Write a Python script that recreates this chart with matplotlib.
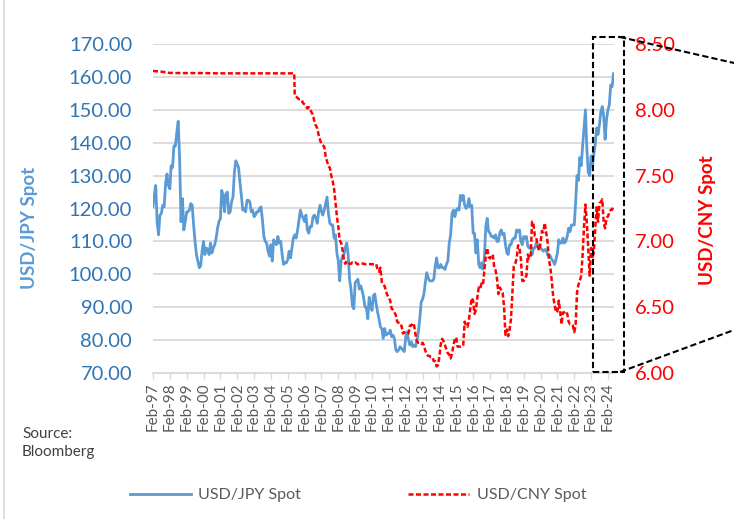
import matplotlib.pyplot as plt
import matplotlib.dates as mdates
import matplotlib.ticker as mticker
import pandas as pd
from matplotlib.lines import Line2D
from matplotlib.patches import Rectangle

plt.rcParams['font.family'] = ['Lato', 'DejaVu Sans']

# USD/JPY, un valor por mes desde Feb-1997 hasta Jun-2024
usdjpy = [
    120.5, 124.0, 127.0, 116.0, 112.0, 118.0, 118.5, 121.0, 120.5, 127.5, 130.5,          # 1997
    127.0, 126.0, 133.0, 132.5, 139.0, 139.0, 143.0, 146.5, 135.0, 116.0, 123.0, 113.5,   # 1998
    116.0, 119.0, 119.0, 119.5, 121.5, 121.0, 115.0, 110.0, 106.0, 104.0, 102.0, 102.5,   # 1999
    107.0, 110.0, 106.0, 108.0, 107.5, 106.0, 109.5, 106.5, 108.0, 109.0, 111.0, 114.0,   # 2000
    116.0, 117.0, 125.5, 124.0, 119.0, 124.5, 125.0, 118.5, 119.0, 122.0, 123.5, 131.0,   # 2001
    134.5, 133.5, 132.5, 128.0, 124.0, 119.5, 120.0, 119.0, 122.5, 122.5, 122.0, 119.0,   # 2002
    119.5, 117.5, 118.0, 119.0, 119.0, 120.0, 120.5, 116.5, 111.5, 110.0, 109.5, 107.0,   # 2003
    105.5, 109.0, 104.0, 110.5, 109.5, 109.0, 111.5, 109.5, 110.0, 106.0, 103.0, 103.5,   # 2004
    103.5, 104.5, 107.0, 105.0, 108.0, 111.0, 112.0, 111.0, 113.5, 116.5, 119.5, 118.0,   # 2005
    117.0, 116.0, 118.0, 113.5, 112.5, 114.5, 114.5, 117.5, 118.0, 117.0, 115.5, 119.0,   # 2006
    121.0, 119.0, 118.0, 119.5, 121.5, 123.5, 118.5, 115.5, 115.0, 115.0, 111.0, 112.0,   # 2007
    106.5, 104.0, 98.0, 104.0, 105.5, 106.0, 108.0, 109.5, 106.0, 98.5, 95.5, 90.5,      # 2008
    89.5, 97.5, 98.0, 98.5, 95.5, 96.5, 95.0, 93.0, 90.0, 90.0, 86.5, 93.0,              # 2009
    90.5, 89.0, 93.5, 94.0, 91.0, 88.5, 86.5, 84.0, 83.5, 80.5, 83.5, 81.5,              # 2010
    82.0, 82.0, 83.0, 81.0, 81.5, 80.5, 77.0, 76.5, 77.0, 78.0, 77.5, 77.0,              # 2011
    76.5, 81.0, 82.5, 80.0, 78.5, 79.5, 78.0, 78.5, 78.0, 80.0, 82.5, 86.5,              # 2012
    91.5, 92.5, 94.0, 97.5, 100.5, 99.0, 98.0, 98.0, 98.0, 98.5, 102.5, 105.0,           # 2013
    102.0, 102.0, 103.0, 102.0, 102.0, 101.5, 103.0, 104.0, 109.5, 112.0, 118.5, 119.5,  # 2014
    117.5, 119.5, 120.0, 119.5, 124.0, 122.5, 124.0, 121.0, 120.0, 120.5, 123.0, 120.5,  # 2015
    121.0, 112.5, 112.5, 106.5, 110.5, 103.0, 102.0, 103.5, 101.5, 105.0, 114.5, 117.0,  # 2016
    113.0, 112.5, 111.5, 111.5, 111.0, 112.0, 110.0, 110.0, 112.5, 113.5, 112.0, 112.5,  # 2017
    109.0, 106.5, 106.0, 109.0, 109.0, 110.5, 111.0, 111.0, 113.5, 113.0, 113.5, 110.0,  # 2018
    109.0, 111.5, 111.0, 111.5, 108.5, 108.0, 108.5, 106.0, 108.0, 108.0, 109.5, 108.5,  # 2019
    109.0, 108.0, 107.5, 107.0, 107.5, 107.5, 106.0, 106.0, 105.5, 104.5, 104.0, 103.0,  # 2020
    104.5, 106.5, 110.5, 109.5, 109.5, 111.0, 109.5, 110.0, 111.5, 114.0, 113.0, 115.0,  # 2021
    115.0, 115.0, 121.5, 130.0, 128.5, 135.5, 133.0, 139.0, 144.5, 150.0, 138.0, 131.0,  # 2022
    130.0, 136.0, 133.0, 136.5, 139.5, 144.5, 142.5, 145.5, 149.5, 151.0, 148.0, 141.0,  # 2023
    147.0, 150.0, 151.5, 157.5, 157.0, 161.0,                                            # 2024
]

# USD/CNY: periodo de tipo fijo (pocos puntos) y despues mensual desde Jul-2005
cny_fijo_fechas = ["1997-02-01", "1997-08-01", "1998-02-01", "1999-01-01", "2000-01-01",
                   "2001-01-01", "2002-01-01", "2003-01-01", "2004-01-01", "2005-01-01",
                   "2005-06-20"]
cny_fijo = [8.295, 8.290, 8.280, 8.279, 8.279, 8.277, 8.277, 8.277, 8.277, 8.277, 8.277]
usdcny = [
    8.11, 8.10, 8.09, 8.08, 8.08, 8.07,                                      # 2005
    8.05, 8.04, 8.03, 8.01, 8.02, 8.00, 7.98, 7.96, 7.91, 7.88, 7.86, 7.81,  # 2006
    7.77, 7.74, 7.73, 7.72, 7.65, 7.61, 7.57, 7.56, 7.50, 7.46, 7.40, 7.30,  # 2007
    7.19, 7.11, 7.01, 6.99, 6.94, 6.86, 6.83, 6.85, 6.84, 6.83, 6.83, 6.84,  # 2008
    6.835, 6.840, 6.832, 6.825, 6.830, 6.832, 6.832, 6.830, 6.827, 6.826, 6.827, 6.827,  # 2009
    6.827, 6.827, 6.826, 6.826, 6.828, 6.785, 6.77, 6.80, 6.69, 6.67, 6.66, 6.62,        # 2010
    6.59, 6.57, 6.55, 6.49, 6.48, 6.46, 6.44, 6.39, 6.38, 6.36, 6.36, 6.30,  # 2011
    6.31, 6.30, 6.30, 6.30, 6.36, 6.36, 6.38, 6.36, 6.29, 6.24, 6.23, 6.23,  # 2012
    6.22, 6.23, 6.21, 6.17, 6.14, 6.13, 6.13, 6.12, 6.12, 6.09, 6.09, 6.05,  # 2013
    6.06, 6.13, 6.22, 6.26, 6.24, 6.21, 6.18, 6.15, 6.14, 6.11, 6.15, 6.21,  # 2014
    6.26, 6.27, 6.20, 6.20, 6.20, 6.20, 6.21, 6.39, 6.36, 6.35, 6.40, 6.49,  # 2015
    6.57, 6.55, 6.45, 6.48, 6.57, 6.65, 6.64, 6.68, 6.67, 6.78, 6.89, 6.95,  # 2016
    6.88, 6.87, 6.89, 6.90, 6.81, 6.78, 6.72, 6.60, 6.65, 6.63, 6.61, 6.51,  # 2017
    6.29, 6.33, 6.28, 6.33, 6.41, 6.62, 6.81, 6.83, 6.87, 6.97, 6.95, 6.87,  # 2018
    6.70, 6.70, 6.72, 6.74, 6.90, 6.87, 6.88, 7.15, 7.13, 7.04, 7.03, 6.96,  # 2019
    6.93, 6.99, 7.08, 7.07, 7.14, 7.07, 7.00, 6.86, 6.80, 6.70, 6.58, 6.52,  # 2020
    6.46, 6.47, 6.55, 6.47, 6.37, 6.46, 6.46, 6.47, 6.45, 6.39, 6.37, 6.37,  # 2021
    6.36, 6.31, 6.36, 6.61, 6.67, 6.70, 6.74, 6.90, 7.12, 7.28, 7.14, 6.95,  # 2022
    6.74, 6.95, 6.87, 6.92, 7.10, 7.26, 7.15, 7.29, 7.30, 7.32, 7.14, 7.10,  # 2023
    7.18, 7.19, 7.22, 7.24, 7.24, 7.27,                                      # 2024
]

fechas_jpy = pd.date_range("1997-02-01", periods=len(usdjpy), freq="MS")
fechas_cny = list(pd.to_datetime(cny_fijo_fechas)) + \
    list(pd.date_range("2005-07-01", periods=len(usdcny), freq="MS"))
valores_cny = cny_fijo + usdcny

azul = "#5B9BD5"
azul_txt = "#2E75B6"
rojo = "#FF0000"
gris = "#595959"
gris_rejilla = "#D9D9D9"

fig = plt.figure(figsize=(7.34, 5.19), dpi=100)
W, H = 734, 519
ax = fig.add_axes([153 / W, 1 - 373 / H, (614 - 153) / W, (373 - 44) / H])

ax.plot(fechas_jpy, usdjpy, color=azul, lw=2.0, zorder=3)
ax.set_ylim(70, 170)
ax.yaxis.set_major_locator(mticker.MultipleLocator(10))
ax.yaxis.set_major_formatter(mticker.FormatStrFormatter("%.2f"))
ax.set_xlim(fechas_jpy[0], fechas_jpy[-1] + pd.Timedelta(days=10))
ax.xaxis.set_major_locator(mdates.YearLocator(base=1, month=2, day=1))
ax.xaxis.set_major_formatter(mdates.DateFormatter("%b-%y"))
ax.grid(axis="y", color=gris_rejilla, lw=1.3)
ax.set_axisbelow(True)
for s in ["top", "left", "right"]:
    ax.spines[s].set_visible(False)
ax.spines["bottom"].set_color(gris_rejilla)
ax.spines["bottom"].set_linewidth(1.3)
ax.tick_params(axis="y", length=0, pad=15, labelsize=14.5, labelcolor=azul_txt)
ax.tick_params(axis="x", length=4, width=1, color=gris_rejilla, pad=3,
               labelsize=11, labelcolor=gris, labelrotation=90)
ax.set_ylabel("USD/JPY Spot", color=azul, fontsize=13.5, fontweight="bold")
ax.yaxis.set_label_coords(-0.2495, 0.44)

ax2 = ax.twinx()
ax2.plot(fechas_cny, valores_cny, color=rojo, lw=1.8, ls=(0, (2, 1)), zorder=3)
ax2.set_ylim(6.0, 8.5)
ax2.yaxis.set_major_locator(mticker.MultipleLocator(0.5))
ax2.yaxis.set_major_formatter(mticker.FormatStrFormatter("%.2f"))
for s in ["top", "left", "right", "bottom"]:
    ax2.spines[s].set_visible(False)
ax2.tick_params(axis="y", length=0, pad=15, labelsize=14.5, labelcolor=rojo)
ax2.set_ylabel("USD/CNY Spot", color=rojo, fontsize=13.5, fontweight="bold")
ax2.yaxis.set_label_coords(1.184, 0.465)

# recuadro punteado y lineas de zoom hacia la derecha
def px(x, y):
    return x / W, 1 - y / H

caja = Rectangle(px(593, 372), 31 / W, (372 - 37) / H, transform=fig.transFigure,
                 fill=False, ec="black", lw=1.5, ls=(0, (3, 1.5)), zorder=10)
fig.patches.append(caja)
for (x0, y0), (x1, y1) in [((620, 37), (734, 63)), ((620, 372), (734, 330))]:
    a, b = px(x0, y0)
    c, d = px(x1, y1)
    fig.add_artist(Line2D([a, c], [b, d], transform=fig.transFigure, color="black",
                          lw=1.5, ls=(0, (3, 1.5))))

# borde izquierdo del area del grafico
fig.add_artist(Line2D([4 / W, 4 / W], [0, 1], transform=fig.transFigure,
                      color=gris_rejilla, lw=1.2))

fig.text(22 / W, 1 - 443 / H, "Source:\nBloomberg", fontsize=11, color="#404040",
         va="center", ha="left", linespacing=1.3)

manejadores = [Line2D([], [], color=azul, lw=2.0),
               Line2D([], [], color=rojo, lw=1.8, ls=(0, (2, 1)))]
fig.legend(manejadores, ["USD/JPY Spot", "USD/CNY Spot"], loc="center",
           bbox_to_anchor=(0.488, 1 - 495 / H), ncol=2, frameon=False,
           fontsize=11.5, labelcolor=gris, handlelength=3.8, handletextpad=0.5,
           columnspacing=6.7)

fig.savefig("out.png", dpi=100)
